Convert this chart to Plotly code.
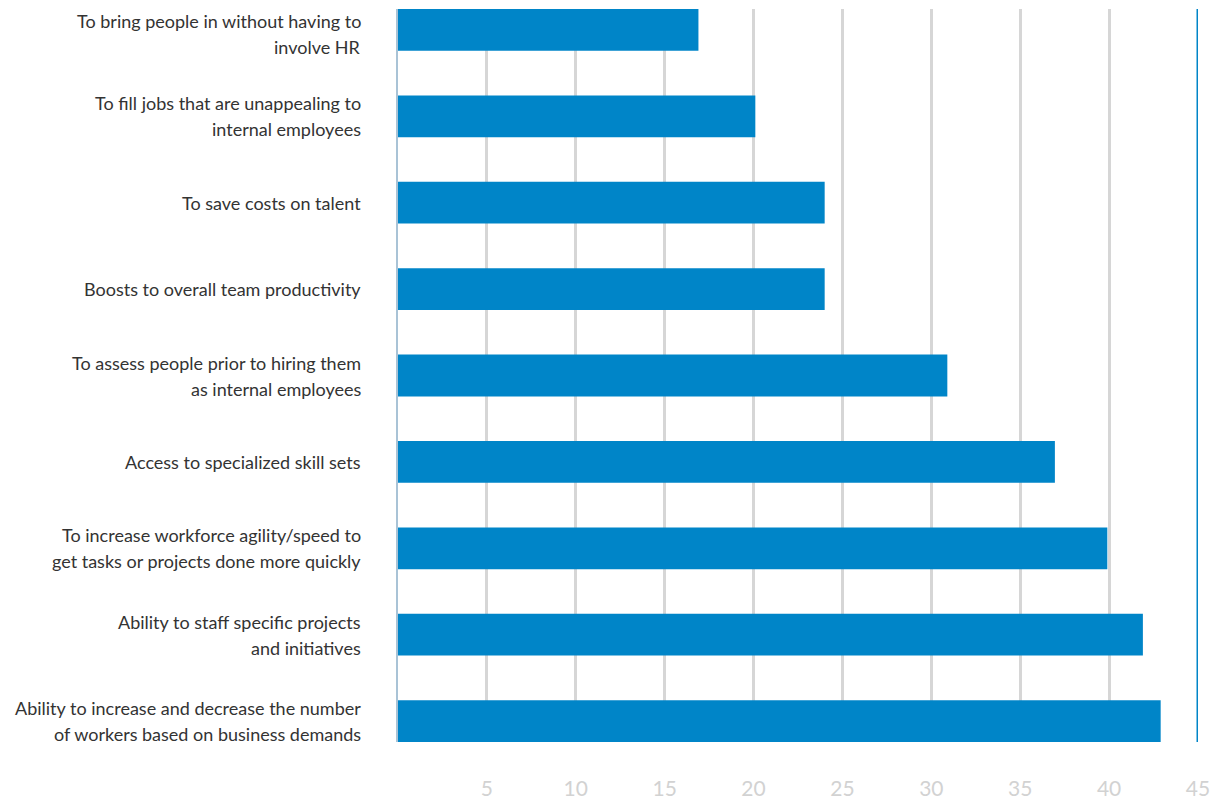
import plotly.graph_objects as go

# Data (top-to-bottom as shown)
categories = [
    "To bring people in without having to<br>involve HR",
    "To fill jobs that are unappealing to<br>internal employees",
    "To save costs on talent",
    "Boosts to overall team productivity",
    "To assess people prior to hiring them<br>as internal employees",
    "Access to specialized skill sets",
    "To increase workforce agility/speed to<br>get tasks or projects done more quickly",
    "Ability to staff specific projects<br>and initiatives",
    "Ability to increase and decrease the number<br>of workers based on business demands",
]
values = [16.9, 20.1, 24.0, 24.0, 30.9, 36.95, 39.9, 41.9, 42.9]
tick_values = [5, 10, 15, 20, 25, 30, 35, 40, 45]

BAR = "#0085C8"
BAR_W = 0.484

fig = go.Figure()
fig.add_trace(go.Bar(
    x=values, y=categories, orientation="h",
    marker=dict(color=BAR, line=dict(width=0)),
    width=BAR_W, hoverinfo="x+y",
))

n = len(categories)
fig.update_yaxes(
    type="category", categoryorder="array", categoryarray=categories,
    range=[n - 1 + BAR_W / 2, -BAR_W / 2],
    showticklabels=False, showgrid=False, zeroline=False,
    showline=True, linecolor="#a9c3d6", linewidth=1.5, automargin=False,
)
fig.update_xaxes(
    range=[0, 45], tickmode="array", tickvals=tick_values,
    ticktext=[str(v) for v in tick_values],
    showgrid=True, gridcolor="#d6d6d6", gridwidth=2.5,
    zeroline=False, showline=False, ticks="",
    tickfont=dict(family="Lato", size=21, color="#d2d2d2"),
    ticklabelstandoff=32, automargin=False,
)

# right-hand blue boundary line at the axis maximum
fig.add_shape(type="line", xref="x", yref="paper", x0=tick_values[-1], x1=tick_values[-1],
              y0=0, y1=1, line=dict(color=BAR, width=3), layer="above")

# category labels, one annotation per line for wider line spacing
annotations = []
for j, cat in enumerate(categories):
    lines = cat.split("<br>")
    k = len(lines)
    edge = -4 if j == 0 else 0  # keep the top label inside the page
    for i, ln in enumerate(lines):
        shift = ((k - 1) / 2 - i) * 26 + edge
        annotations.append(dict(
            xref="paper", yref="y", x=0, y=cat, text=ln, showarrow=False,
            xanchor="right", yanchor="middle", xshift=-35, yshift=shift,
            font=dict(family="Lato", size=18, color="#333333"),
        ))

fig.update_layout(
    width=1211, height=803,
    margin=dict(l=390, r=21, t=1, b=69),
    paper_bgcolor="white", plot_bgcolor="white",
    showlegend=False, bargap=0.5,
    annotations=annotations,
)

fig.write_html("out.html")
